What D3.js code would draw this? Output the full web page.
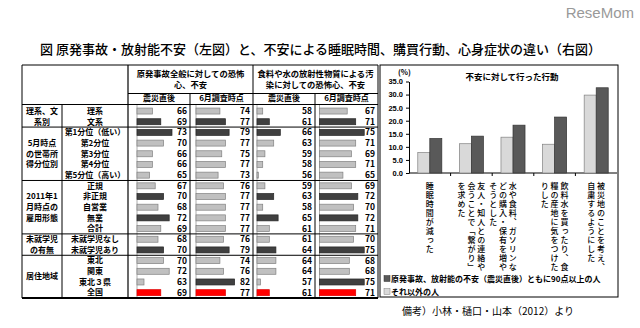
<!DOCTYPE html>
<html>
<head>
<meta charset="utf-8">
<script src="https://cdn.jsdelivr.net/npm/d3@7"></script>
<style>
  body { margin: 0; background: #fff; }
  svg { display: block; font-family: "Noto Sans CJK JP", "Noto Sans", sans-serif; }
</style>
</head>
<body>
<svg id="chart" width="640" height="328"></svg>
<script>
// ---- data: left table ----
const groupLabels = [["理系、文", "系別"], ["5月時点", "の世帯所", "得分位別"], ["2011年1", "月時点の", "雇用形態"], ["未就学児", "の有無"], ["居住地域"]];
const groupSizes = [2, 5, 5, 2, 4];
const rowLabels = ["理系", "文系", "第1分位（低い）", "第2分位", "第3分位", "第4分位", "第5分位（高い）",
  "正規", "非正規", "自営業", "無業", "合計", "未就学児なし", "未就学児あり", "東北", "関東", "東北３県", "全国"];
const topHeaders = [["原発事故全般に対しての恐怖", "心、不安"], ["食料や水の放射性物質による汚", "染に対しての恐怖心、不安"]];
const subHeaders = ["震災直後", "6月調査時点", "震災直後", "6月調査時点"];

const nuclearJustAfter = [66, 69, 73, 70, 66, 66, 65, 67, 70, 68, 72, 69, 68, 70, 70, 72, 63, 69];
const nuclearJune      = [74, 77, 79, 77, 75, 77, 73, 76, 77, 77, 77, 77, 76, 79, 74, 76, 82, 77];
const foodJustAfter    = [58, 61, 66, 63, 59, 58, 56, 59, 63, 58, 65, 61, 61, 64, 64, 64, 57, 61];
const foodJune         = [67, 71, 75, 71, 69, 71, 65, 69, 72, 70, 72, 71, 70, 75, 68, 68, 75, 71];
// L = other, D = highlighted, R = national total
const toneNuclearJustAfter = "LDDLLLLLDLDLLDLLLR";
const toneNuclearJune      = "LDDLLLLLLLLLLDLLDR";
const toneFoodJustAfter    = "LDDLLLLLDLDLLDLLLR";
const toneFoodJune         = "LDDLLLLLDLDLLDLLDR";

// ---- data: right chart ----
const actions = [
  ["睡眠時間が減った"],
  ["友人・知人との連絡や", "会うことで「繋がり」", "を求めた"],
  ["水や食料、ガソリンな", "どの購入・保有を増や", "そうとした"],
  ["飲料水を買ったり、食", "糧の産地に気をつけた", "りした"],
  ["被災地のことを考え、", "自粛するようにした"]
];
const otherPeople   = [7.8, 11.2, 13.7, 11.0, 29.8];
const anxiousPeople = [13.2, 14.1, 18.3, 21.4, 32.6];
const seriesNames = ["原発事故、放射能の不安（震災直後）ともに90点以上の人", "それ以外の人"];
const yTicks = [0, 5, 10, 15, 20, 25, 30, 35];

const svg = d3.select("#chart");

// title + logo
svg.append("text").attr("x", 40).attr("y", 54).attr("font-size", 13).attr("font-weight", 500)
  .text("図 原発事故・放射能不安（左図）と、不安による睡眠時間、購買行動、心身症状の違い（右図）");
svg.append("text").attr("x", 634).attr("y", 18).attr("text-anchor", "end")
  .attr("font-family", "Liberation Sans").attr("font-size", 15).attr("fill", "#999")
  .text("ReseMom");

// ================= left table =================
const tbl = svg.append("g");
const L = 22, R = 378, T = 65, B = 298;
const y = d3.scaleBand().domain(d3.range(rowLabels.length)).range([105.7, B]);

const tone = { L: { fill: "#c0c0c0", stroke: "#808080" }, D: { fill: "#404040", stroke: "#262626" }, R: { fill: "#ff0000", stroke: "#e00000" } };

const cols = [
  { values: nuclearJustAfter, tones: toneNuclearJustAfter, left: 128, right: 190, start: 137, zero: 60.5, ppu: 2.8 },
  { values: nuclearJune, tones: toneNuclearJune, left: 190, right: 253, start: 196, zero: 61, ppu: 1.84 },
  { values: foodJustAfter, tones: toneFoodJustAfter, left: 253, right: 315, start: 257, zero: 55.4, ppu: 2.2 },
  { values: foodJune, tones: toneFoodJune, left: 315, right: 378, start: 319.5, zero: 54, ppu: 2.13 }
];

cols.forEach((c, ci) => {
  const x = d3.scaleLinear().domain([c.zero, c.zero + 30]).range([c.start, c.start + 30 * c.ppu]);
  const g = tbl.append("g");
  g.append("line").attr("x1", c.start).attr("x2", c.start).attr("y1", 104.5).attr("y2", B)
    .attr("stroke", "#999").attr("stroke-width", 0.8);
  g.selectAll("rect").data(c.values).join("rect")
    .attr("x", c.start)
    .attr("y", (d, i) => y(i) + y.bandwidth() / 2 - 3)
    .attr("width", d => x(d) - c.start)
    .attr("height", 6)
    .attr("fill", (d, i) => tone[c.tones[i]].fill)
    .attr("stroke", (d, i) => tone[c.tones[i]].stroke)
    .attr("stroke-width", 0.7);
  g.selectAll("text").data(c.values).join("text")
    .attr("x", c.right - 3)
    .attr("y", (d, i) => y(i) + y.bandwidth() / 2)
    .attr("dy", "0.35em")
    .attr("text-anchor", "end")
    .attr("font-size", 8.5).attr("font-weight", "bold")
    .text(d => d);
  tbl.append("text").attr("x", (c.left + c.right) / 2).attr("y", 101)
    .attr("text-anchor", "middle").attr("font-size", 8).attr("font-weight", "bold")
    .text(subHeaders[ci]);
});

topHeaders.forEach((lines, i) => {
  const cx = i === 0 ? (128 + 253) / 2 : (253 + 378) / 2;
  lines.forEach((t, k) => {
    tbl.append("text").attr("x", cx).attr("y", 77 + k * 11)
      .attr("text-anchor", "middle").attr("font-size", 8.3).attr("font-weight", "bold").text(t);
  });
});

// row labels
tbl.selectAll("text.row").data(rowLabels).join("text").attr("class", "row")
  .attr("x", 95).attr("y", (d, i) => y(i) + y.bandwidth() / 2).attr("dy", "0.35em")
  .attr("text-anchor", "middle").attr("font-size", 8).attr("font-weight", "bold")
  .text(d => d);

// group labels + separators
let cum = 0;
groupSizes.forEach((n, gi) => {
  const top = y(cum), bottom = y(cum) + n * y.step();
  const mid = (top + bottom) / 2;
  const lines = groupLabels[gi];
  lines.forEach((t, k) => {
    tbl.append("text").attr("x", 42).attr("y", mid + (k - (lines.length - 1) / 2) * 10.8).attr("dy", "0.35em")
      .attr("text-anchor", "middle").attr("font-size", 8).attr("font-weight", "bold").text(t);
  });
  cum += n;
  if (cum < rowLabels.length) {
    tbl.append("line").attr("x1", L).attr("x2", R).attr("y1", bottom).attr("y2", bottom)
      .attr("stroke", "#000").attr("stroke-width", 1);
  }
});

// grid lines
const ln = (x1, y1, x2, y2, w) => tbl.append("line").attr("x1", x1).attr("y1", y1).attr("x2", x2).attr("y2", y2)
  .attr("stroke", "#000").attr("stroke-width", w || 1);
ln(L, T, R, T);
ln(L, T, L, B);
ln(R, T, R, B);
ln(L, B, R, B, 2);
ln(L, 104.5, R, 104.5);
ln(128, 93.5, R, 93.5);
ln(62, 104.5, 62, B);
ln(128, T, 128, B, 1.2);
ln(253, T, 253, B);
ln(190, 93.5, 190, B);
ln(315, 93.5, 315, B);

// ================= right chart =================
const rc = svg.append("g");
rc.append("rect").attr("x", 380).attr("y", 65).attr("width", 238).attr("height", 232)
  .attr("fill", "none").attr("stroke", "#000").attr("stroke-width", 1);

const px = d3.scaleBand().domain(d3.range(actions.length)).range([409, 617]);
const sub = d3.scaleBand().domain([0, 1]).range([0, px.bandwidth()]).paddingOuter(0.73);
const py = d3.scaleLinear().domain([0, 35]).range([173, 81.5]);

const yAxis = rc.append("g").attr("transform", "translate(409,0)")
  .call(d3.axisLeft(py).tickValues(yTicks).tickFormat(d3.format(".1f")).tickSize(3).tickSizeOuter(0));
yAxis.select(".domain").attr("stroke", "#000");
yAxis.selectAll("text").attr("font-family", "Liberation Sans").attr("font-size", 7.5).attr("font-weight", "bold").attr("fill", "#000");

const xAxis = rc.append("g");
xAxis.append("line").attr("x1", 409).attr("x2", 617).attr("y1", py(0)).attr("y2", py(0)).attr("stroke", "#000");
xAxis.selectAll("line.tick").data(d3.range(1, actions.length)).join("line").attr("class", "tick")
  .attr("x1", d => px(d)).attr("x2", d => px(d)).attr("y1", py(0)).attr("y2", py(0) + 3).attr("stroke", "#000");

const seriesData = [otherPeople, anxiousPeople];
const seriesStyle = [{ fill: "#d9d9d9", stroke: "#808080" }, { fill: "#595959", stroke: "#333" }];
seriesData.forEach((vals, si) => {
  rc.append("g").selectAll("rect").data(vals).join("rect")
    .attr("x", (d, i) => px(i) + sub(si))
    .attr("y", d => py(d))
    .attr("width", sub.bandwidth())
    .attr("height", d => py(0) - py(d))
    .attr("fill", seriesStyle[si].fill)
    .attr("stroke", seriesStyle[si].stroke)
    .attr("stroke-width", 0.7);
});

rc.append("text").attr("x", 512).attr("y", 80).attr("text-anchor", "middle")
  .attr("font-size", 8.5).attr("font-weight", "bold").text("不安に対して行った行動");
rc.append("text").attr("x", 398).attr("y", 75).attr("font-size", 7.5).attr("font-weight", "bold").text("(%)");

// vertical category labels
const labelShift = [0, 0, -10, 0, 0];
actions.forEach((lines, i) => {
  const cx = px(i) + px.bandwidth() / 2 + labelShift[i];
  lines.forEach((t, k) => {
    rc.append("text")
      .attr("x", cx + ((lines.length - 1) / 2 - k) * 9.8)
      .attr("y", 182)
      .style("writing-mode", "vertical-rl")
      .style("letter-spacing", "1px")
      .attr("font-size", 8).attr("font-weight", 500)
      .text(t);
  });
});

// legend
const legendOrder = [1, 0];
legendOrder.forEach((si, k) => {
  const ly = 279 + k * 13;
  rc.append("rect").attr("x", 384).attr("y", ly - 3.5).attr("width", 6).attr("height", 6)
    .attr("fill", seriesStyle[si].fill).attr("stroke", seriesStyle[si].stroke).attr("stroke-width", 0.5);
  rc.append("text").attr("x", 391).attr("y", ly).attr("dy", "0.35em")
    .attr("font-size", 8).attr("font-weight", "bold").text(seriesNames[k]);
});

// source note
svg.append("text").attr("x", 402).attr("y", 315).attr("font-size", 10)
  .text("備考）小林・樋口・山本（2012）より");
</script>
</body>
</html>
